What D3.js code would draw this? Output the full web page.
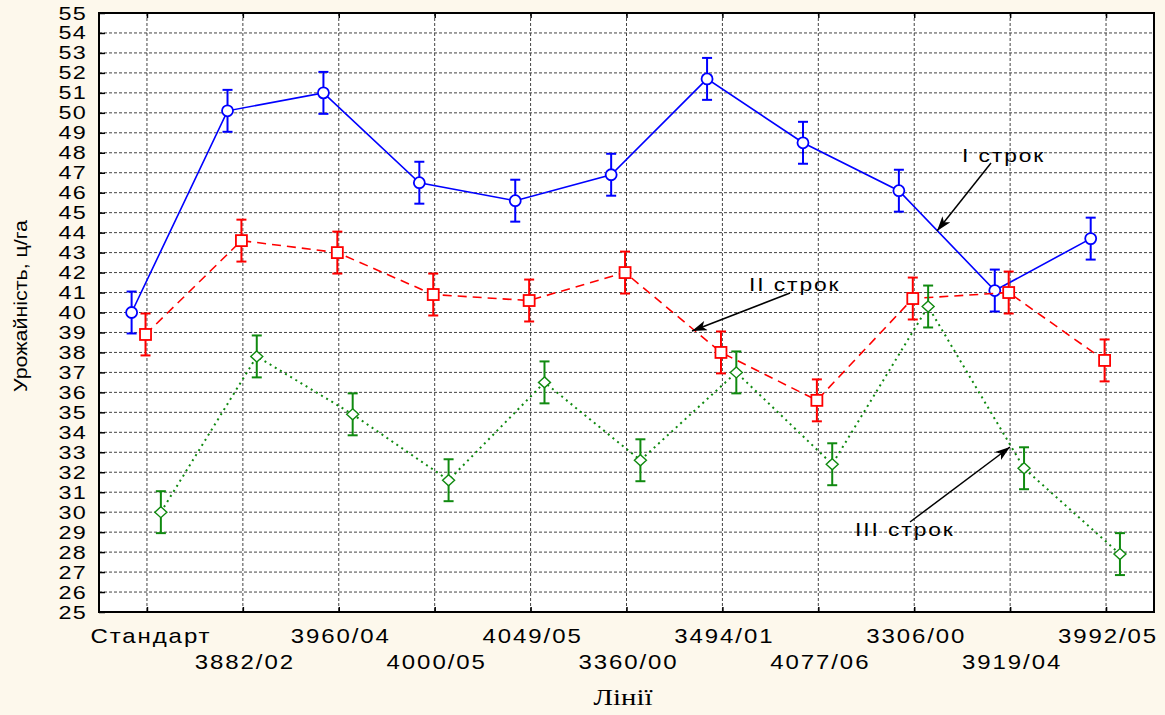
<!DOCTYPE html>
<html><head><meta charset="utf-8">
<script src="https://cdn.jsdelivr.net/npm/d3@7"></script>
<style>
html,body{margin:0;padding:0;background:#fdf8ec;}
svg{display:block;}
</style></head>
<body>
<script>
const categories = ["Стандарт","3882/02","3960/04","4000/05","4049/05","3360/00","3494/01","4077/06","3306/00","3919/04","3992/05"];
const strok1 = [40.0,50.1,51.0,46.5,45.6,46.9,51.7,48.5,46.1,41.1,43.7];
const strok2 = [38.9,43.6,43.0,40.9,40.6,42.0,38.0,35.6,40.7,41.0,37.6];
const strok3 = [30.0,37.8,34.9,31.6,36.5,32.6,37.0,32.4,40.3,32.2,27.9];
const err1 = [1.05,1.05,1.05,1.05,1.05,1.05,1.05,1.05,1.05,1.05,1.05];
const err2 = [1.05,1.05,1.05,1.05,1.05,1.05,1.05,1.05,1.05,1.05,1.05];
const err3 = [1.05,1.05,1.05,1.05,1.05,1.05,1.05,1.05,1.05,1.05,1.05];
const yTicks = d3.range(25,56,1);
const seriesNames = ["I строк","II строк","III строк"];

const W=1165,H=715;
const svg=d3.select("body").append("svg").attr("width",W).attr("height",H);
svg.append("rect").attr("width",W).attr("height",H).attr("fill","#fdf8ec");

const x=d3.scaleLinear().domain([-0.5,10.5]).range([99,1154]);
const y=d3.scaleLinear().domain([25,55]).range([612,13]);

const FONT="Arial, 'Liberation Sans', sans-serif";
function stext(g,tx,ty,str,size,sx,anchor,family,ls){
  return g.append("text").attr("transform",`translate(${tx},${ty}) scale(${sx},1)`)
    .attr("text-anchor",anchor||"start").attr("font-family",family||FONT)
    .attr("letter-spacing",ls||0)
    .attr("font-size",size).attr("fill","#000").text(str);
}

// plot background
svg.append("rect").attr("x",x(-0.5)).attr("y",y(55)).attr("width",x(10.5)-x(-0.5)).attr("height",y(25)-y(55)).attr("fill","#fff");

// grid
const grid=svg.append("g");
grid.selectAll("line.h").data(yTicks.filter(d=>d>25&&d<55)).join("line")
  .attr("x1",x(-0.5)).attr("x2",x(10.5)).attr("y1",d=>y(d)).attr("y2",d=>y(d))
  .attr("stroke","#444").attr("stroke-width",1).attr("stroke-dasharray","3,2");
grid.selectAll("line.v").data(categories).join("line")
  .attr("x1",(d,i)=>x(i)).attr("x2",(d,i)=>x(i)).attr("y1",y(55)).attr("y2",y(25))
  .attr("stroke","#444").attr("stroke-width",1).attr("stroke-dasharray","3,2");

// axes ticks (inward)
const axL=svg.append("g").attr("transform",`translate(${x(-0.5)},0)`)
  .call(d3.axisRight(y).tickValues(yTicks).tickSize(6).tickFormat(""));
axL.select(".domain").remove();
axL.selectAll("line").attr("stroke","#000").attr("stroke-width",1.5);
const axB=svg.append("g").attr("transform",`translate(0,${y(25)})`)
  .call(d3.axisTop(x).tickValues(d3.range(0,11)).tickSize(5).tickFormat(""));
axB.select(".domain").remove();
axB.selectAll("line").attr("stroke","#000").attr("stroke-width",1.5);
const axT=svg.append("g").attr("transform",`translate(0,${y(55)})`)
  .call(d3.axisBottom(x).tickValues(d3.range(0,11)).tickSize(5).tickFormat(""));
axT.select(".domain").remove();
axT.selectAll("line").attr("stroke","#000").attr("stroke-width",1.5);

// frame
svg.append("rect").attr("x",x(-0.5)).attr("y",y(55)).attr("width",x(10.5)-x(-0.5)).attr("height",y(25)-y(55))
  .attr("fill","none").attr("stroke","#000").attr("stroke-width",2);

// y tick labels
const yl=svg.append("g");
yTicks.forEach(v=>{ stext(yl,87,y(v)+6.5,String(v),18,1.3,"end",FONT,1); });

// x tick labels
const xl=svg.append("g");
categories.forEach((c,i)=>{ stext(xl,x(i)+(i===0?4:2),i%2===0?643:669,c,20,1.2,"middle",FONT,1.6); });

// axis titles
svg.append("text").attr("transform",`translate(27,306) rotate(-90)`).attr("text-anchor","middle")
  .attr("font-family",FONT).attr("font-size",18).attr("textLength",172).attr("lengthAdjust","spacingAndGlyphs")
  .text("Урожайність, ц/га");
stext(svg,623,705,"Лінії",23,1.25,"middle","'Liberation Serif','Times New Roman',serif");

// series
const series=[
  {vals:strok1,err:err1,color:"#0000ff",off:-0.16,dash:null,shape:"circle"},
  {vals:strok2,err:err2,color:"#ff0000",off:-0.015,dash:"9,6",shape:"square"},
  {vals:strok3,err:err3,color:"#108a10",off:0.145,dash:"2,4",shape:"diamond"}
];
const line=d3.line().x(d=>d[0]).y(d=>d[1]);
series.forEach(s=>{
  const pts=s.vals.map((v,i)=>[x(i+s.off),y(v)]);
  const g=svg.append("g");
  g.append("path").attr("d",line(pts)).attr("fill","none").attr("stroke",s.color)
    .attr("stroke-width",s.shape==="diamond"?2:1.6).attr("stroke-dasharray",s.dash);
  s.vals.forEach((v,i)=>{
    const cx=x(i+s.off);
    const y1=y(v+s.err[i]),y0=y(v-s.err[i]);
    g.append("line").attr("x1",cx).attr("x2",cx).attr("y1",y1).attr("y2",y0).attr("stroke",s.color).attr("stroke-width",2);
    g.append("line").attr("x1",cx-5).attr("x2",cx+5).attr("y1",y1).attr("y2",y1).attr("stroke",s.color).attr("stroke-width",2);
    g.append("line").attr("x1",cx-5).attr("x2",cx+5).attr("y1",y0).attr("y2",y0).attr("stroke",s.color).attr("stroke-width",2);
  });
  s.vals.forEach((v,i)=>{
    const cx=x(i+s.off),cy=y(v);
    if(s.shape==="circle") g.append("circle").attr("cx",cx).attr("cy",cy).attr("r",5.5).attr("fill","#fff").attr("stroke",s.color).attr("stroke-width",1.8);
    else if(s.shape==="square") g.append("rect").attr("x",cx-5.5).attr("y",cy-5.5).attr("width",11).attr("height",11).attr("fill","#fff").attr("stroke",s.color).attr("stroke-width",1.8);
    else g.append("path").attr("d",`M${cx},${cy-5.5}L${cx+6},${cy}L${cx},${cy+5.5}L${cx-6},${cy}Z`).attr("fill","#fff").attr("stroke",s.color).attr("stroke-width",1.4);
  });
});

// annotations
const defs=svg.append("defs");
defs.append("marker").attr("id","ah").attr("viewBox","0 0 12 8").attr("refX",12).attr("refY",4)
  .attr("markerWidth",16).attr("markerHeight",10).attr("markerUnits","userSpaceOnUse").attr("orient","auto")
  .append("path").attr("d","M0,0L12,4L0,8L3,4Z").attr("fill","#000");
const ann=svg.append("g");
const annots=[
  {t:seriesNames[0],tx:962,ty:162,x1:991,y1:163,x2:937,y2:231},
  {t:seriesNames[1],tx:749,ty:291,x1:790,y1:293,x2:692,y2:331},
  {t:seriesNames[2],tx:855,ty:536,x1:910,y1:522,x2:1010,y2:447}
];
annots.forEach(a=>{
  ann.append("line").attr("x1",a.x1).attr("y1",a.y1).attr("x2",a.x2).attr("y2",a.y2)
    .attr("stroke","#000").attr("stroke-width",1.5).attr("marker-end","url(#ah)");
  stext(ann,a.tx,a.ty,a.t,19,1.2,"start",FONT,1.6);
});
</script>
</body></html>
